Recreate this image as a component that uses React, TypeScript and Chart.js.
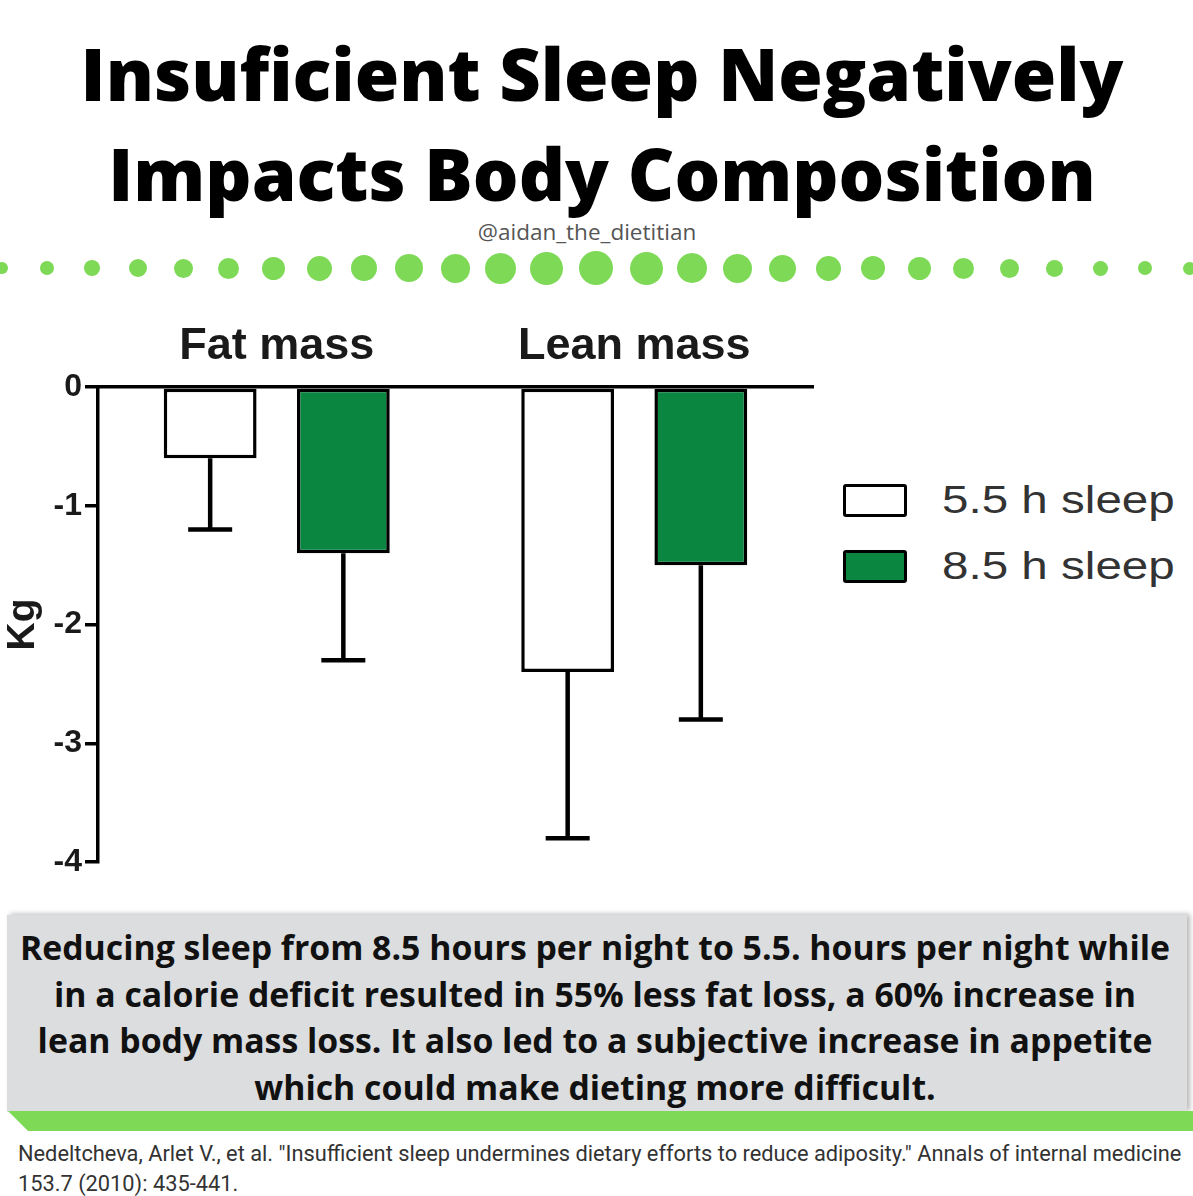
import React, { useEffect, useRef } from "react";
import { Chart, registerables } from "chart.js";

Chart.register(...registerables);

// ---------- data ----------
const categories = ["Fat mass", "Lean mass"];
const seriesLabels = ["5.5 h sleep", "8.5 h sleep"];
const sleep55 = [-0.6, -2.4];
const sleep85 = [-1.4, -1.5];
const sleep55ErrLow = [-1.2, -3.8];
const sleep85ErrLow = [-2.3, -2.8];
const yMin = -4;
const yMax = 0;
const yStep = 1;
const yAxisTitle = "Kg";

const titleLines = ["Insuficient Sleep Negatively", "Impacts Body Composition"];
const handle = "@aidan_the_dietitian";
const bodyLines = [
  "Reducing sleep from 8.5 hours per night to 5.5. hours per night while",
  "in a calorie deficit resulted in 55% less fat loss, a 60% increase in",
  "lean body mass loss. It also led to a subjective increase in appetite",
  "which could make dieting more difficult.",
];
const citationLines = [
  'Nedeltcheva, Arlet V., et al. "Insufficient sleep undermines dietary efforts to reduce adiposity." Annals of internal medicine',
  "153.7 (2010): 435-441.",
];

// decorative dotted divider: [centerX, diameter]
const dots: [number, number][] = [
  [2, 12], [47, 14], [92, 16], [138, 18], [183, 19], [228, 21], [273, 23],
  [319, 25], [364, 26], [409, 28], [455, 29], [500, 31], [546, 33], [596, 34],
  [646, 33], [692, 30], [737, 29], [782, 27], [828, 25], [873, 24], [919, 23],
  [963, 21], [1009, 19], [1054, 17], [1100, 15], [1145, 14], [1189, 13],
];

const WHITE = "#ffffff";
const GREEN = "#0b8641";
const LIGHT_GREEN = "#7ed957";
const FONT = "'Liberation Sans', Arial, Helvetica, sans-serif";

const errorBarPlugin = {
  id: "errorBars",
  afterDatasetsDraw(chart: any) {
    const { ctx } = chart;
    const yScale = chart.scales.y;
    chart.data.datasets.forEach((ds: any, di: number) => {
      const meta = chart.getDatasetMeta(di);
      meta.data.forEach((bar: any, i: number) => {
        const x = bar.x;
        const yStart = bar.y;
        const yEnd = yScale.getPixelForValue(ds.errLow[i]);
        ctx.save();
        ctx.strokeStyle = "#000";
        ctx.lineWidth = 4.5;
        ctx.beginPath();
        ctx.moveTo(x, yStart);
        ctx.lineTo(x, yEnd);
        ctx.stroke();
        ctx.beginPath();
        ctx.moveTo(x - 22, yEnd);
        ctx.lineTo(x + 22, yEnd);
        ctx.stroke();
        ctx.restore();
      });
    });
  },
};

function BarChart() {
  const ref = useRef<HTMLCanvasElement | null>(null);
  useEffect(() => {
    if (!ref.current) return;
    const chart = new Chart(ref.current, {
      type: "bar",
      data: {
        labels: categories,
        datasets: [
          {
            label: seriesLabels[0],
            data: sleep55,
            errLow: sleep55ErrLow,
            backgroundColor: WHITE,
            borderColor: "#000",
            borderWidth: 3.5,
            borderSkipped: false,
            inflateAmount: 0,
          } as any,
          {
            label: seriesLabels[1],
            data: sleep85,
            errLow: sleep85ErrLow,
            backgroundColor: GREEN,
            borderColor: "#000",
            borderWidth: 3.5,
            borderSkipped: false,
            inflateAmount: 0,
          } as any,
        ],
      },
      options: {
        animation: false,
        responsive: false,
        maintainAspectRatio: false,
        datasets: { bar: { categoryPercentage: 0.745, barPercentage: 0.697 } },
        layout: { padding: { left: 0, right: 17, top: 0, bottom: 28 } },
        plugins: { legend: { display: false }, tooltip: { enabled: false } },
        scales: {
          x: {
            position: "top",
            grid: { display: false },
            border: { display: true, color: "#000", width: 3.5 },
            ticks: {
              color: "#1a1a1a",
              font: { family: FONT, size: 45, weight: "bold" },
              padding: 5,
            },
            afterFit: (s: any) => {
              s.height = 97;
            },
          },
          y: {
            min: yMin,
            max: yMax,
            ticks: {
              stepSize: yStep,
              color: "#1a1a1a",
              font: { family: FONT, size: 32, weight: "bold" },
              padding: 3,
            },
            grid: {
              drawOnChartArea: false,
              drawTicks: true,
              tickLength: 13,
              color: "#000",
              lineWidth: 3.5,
            },
            border: { display: true, color: "#000", width: 3.5 },
            title: {
              display: true,
              text: yAxisTitle,
              color: "#1a1a1a",
              font: { family: FONT, size: 39, weight: "bold" },
              padding: { top: 0, bottom: 0 },
            },
            afterFit: (s: any) => {
              s.width = 98;
            },
          },
        },
      } as any,
      plugins: [errorBarPlugin],
    });
    return () => chart.destroy();
  }, []);
  return (
    <canvas
      ref={ref}
      width={830}
      height={600}
      style={{ position: "absolute", left: 0, top: 290, width: 830, height: 600 }}
    />
  );
}

function LegendItem({ label, color, top }: { label: string; color: string; top: number }) {
  return (
    <div style={{ position: "absolute", left: 843, top, height: 34 }}>
      <div
        style={{
          position: "absolute",
          left: 0,
          top: 0,
          width: 64,
          height: 33,
          boxSizing: "border-box",
          border: "3.5px solid #000",
          borderRadius: 3,
          background: color,
        }}
      />
      <div
        style={{
          position: "absolute",
          left: 99,
          top: -14,
          fontFamily: FONT,
          fontSize: 39,
          lineHeight: "60px",
          color: "#333",
          whiteSpace: "nowrap",
          transform: "scaleX(1.22)",
          transformOrigin: "left center",
        }}
      >
        {label}
      </div>
    </div>
  );
}

export default function App() {
  useEffect(() => {
    document.body.style.margin = "0";
  }, []);
  return (
    <div
      style={{
        position: "fixed",
        left: 0,
        top: 0,
        width: 1193,
        height: 1196,
        background: "#fff",
        overflow: "hidden",
      }}
    >
      {/* title */}
      <div
        style={{
          position: "absolute",
          left: 0,
          top: 23,
          width: 1204,
          textAlign: "center",
          fontFamily: "'Open Sans', sans-serif",
          fontWeight: 800,
          fontSize: 72,
          lineHeight: "100px",
          color: "#000",
        }}
      >
        {titleLines.map((t) => (
          <div key={t}>{t}</div>
        ))}
      </div>
      <div
        style={{
          position: "absolute",
          left: 0,
          top: 218,
          width: 1174,
          textAlign: "center",
          fontFamily: "'Open Sans', sans-serif",
          fontSize: 22.5,
          lineHeight: "28px",
          color: "#555",
        }}
      >
        {handle}
      </div>

      {/* dotted divider */}
      {dots.map(([cx, d], i) => (
        <div
          key={i}
          style={{
            position: "absolute",
            left: cx - d / 2,
            top: 268 - d / 2,
            width: d,
            height: d,
            borderRadius: "50%",
            background: LIGHT_GREEN,
          }}
        />
      ))}

      {/* chart */}
      <BarChart />

      {/* legend */}
      <LegendItem label={seriesLabels[0]} color={WHITE} top={484} />
      <LegendItem label={seriesLabels[1]} color={GREEN} top={550} />

      {/* summary box */}
      <div
        style={{
          position: "absolute",
          left: 7,
          top: 915,
          width: 1180,
          height: 197,
          background: "#dcdddf",
          boxShadow: "3px -1px 5px rgba(0,0,0,0.28)",
        }}
      />
      <div
        style={{
          position: "absolute",
          left: 8,
          top: 1111,
          width: 1185,
          height: 20,
          background: LIGHT_GREEN,
          clipPath: "polygon(0 0, 100% 0, 100% 100%, 20px 100%)",
        }}
      />
      <div
        style={{
          position: "absolute",
          left: 0,
          top: 924,
          width: 1190,
          textAlign: "center",
          fontFamily: "'Open Sans', sans-serif",
          fontWeight: 700,
          fontSize: 33.8,
          lineHeight: "46.5px",
          color: "#111",
        }}
      >
        {bodyLines.map((t) => (
          <div key={t} style={{ whiteSpace: "nowrap" }}>
            {t}
          </div>
        ))}
      </div>

      {/* citation */}
      <div
        style={{
          position: "absolute",
          left: 18,
          top: 1139,
          fontFamily: "Roboto, sans-serif",
          fontSize: 21.8,
          lineHeight: "30px",
          color: "#333",
          whiteSpace: "nowrap",
        }}
      >
        {citationLines.map((t) => (
          <div key={t}>{t}</div>
        ))}
      </div>
    </div>
  );
}
